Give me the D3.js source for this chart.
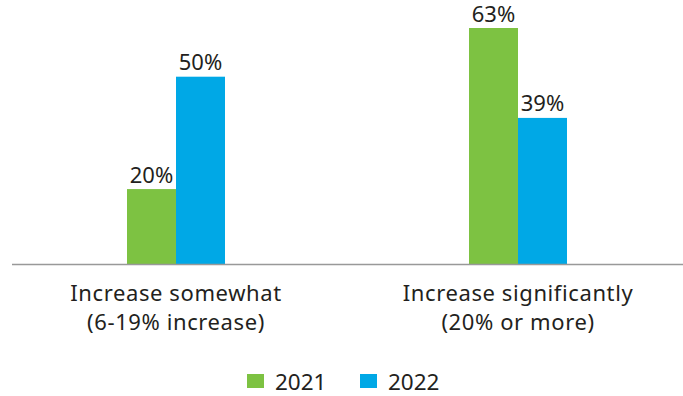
<!DOCTYPE html>
<html>
<head>
<meta charset="utf-8">
<script src="https://cdn.jsdelivr.net/npm/d3@7"></script>
<style>
  body { margin: 0; background: #fff; }
  text { font-family: "Noto Sans", sans-serif; fill: #231f20; }
</style>
</head>
<body>
<svg id="chart" width="683" height="396"></svg>
<script>
var categories = [["Increase somewhat", "(6-19% increase)"], ["Increase significantly", "(20% or more)"]];
var years = ["2021", "2022"];
var values2021 = [20, 63];
var values2022 = [50, 39];
var colors = ["#7dc242", "#00a8e6"];

var svg = d3.select("#chart"),
    baseY = 264;

var data = categories.map(function(c, i) {
    return { key: c[0], lines: c, vals: [values2021[i], values2022[i]] };
});

var x0 = d3.scaleBand()
    .domain(data.map(d => d.key))
    .range([5, 689]);

var x1 = d3.scaleBand()
    .domain(years)
    .range([0, 98]);

var y = d3.scaleLinear()
    .domain([0, 63])
    .range([baseY, 28]);

var groups = svg.selectAll("g.grp")
    .data(data)
    .enter().append("g")
    .attr("class", "grp")
    .attr("transform", d => `translate(${x0(d.key) + x0.bandwidth() / 2 - 49},0)`);

groups.selectAll("rect")
    .data(d => d.vals.map((v, i) => ({ year: years[i], v: v, c: colors[i] })))
    .enter().append("rect")
    .attr("x", d => x1(d.year))
    .attr("width", x1.bandwidth())
    .attr("y", d => y(d.v))
    .attr("height", d => baseY - y(d.v))
    .attr("fill", d => d.c);

groups.selectAll("text.val")
    .data(d => d.vals.map((v, i) => ({ year: years[i], v: v })))
    .enter().append("text")
    .attr("class", "val")
    .attr("x", d => x1(d.year) + x1.bandwidth() / 2)
    .attr("y", d => y(d.v) - 6.5)
    .attr("text-anchor", "middle")
    .style("font-size", "22px")
    .text(d => d.v + "%");

// baseline
svg.append("line")
    .attr("x1", 12).attr("x2", 683)
    .attr("y1", baseY + 0.5).attr("y2", baseY + 0.5)
    .attr("stroke", "#999").attr("stroke-width", 1.5);

// category labels
groups.each(function(d) {
    var g = d3.select(this);
    d.lines.forEach(function(l, i) {
        g.append("text")
            .attr("x", 49)
            .attr("y", 301 + i * 29)
            .attr("text-anchor", "middle")
            .style("font-size", "22px")
            .style("letter-spacing", "0.6px")
            .text(l);
    });
});

// legend
var leg = svg.append("g");
var legX = [247, 360];
years.forEach(function(yr, k) {
    leg.append("rect").attr("x", legX[k]).attr("y", 374).attr("width", 17).attr("height", 14).attr("fill", colors[k]);
    leg.append("text").attr("x", legX[k] + 28).attr("y", 390)
        .style("font-size", "22.5px").text(yr);
});
</script>
</body>
</html>
